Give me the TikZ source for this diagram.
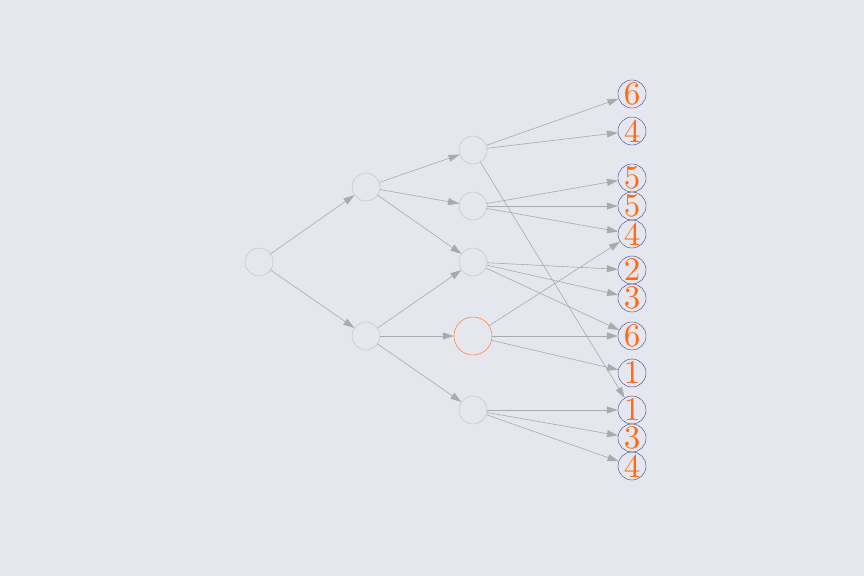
\documentclass[tikz,border=0pt]{standalone}
\usepackage{graphicx}
\usetikzlibrary{arrows.meta}

\definecolor{paper}{HTML}{E6E7EE}
\definecolor{edgegray}{HTML}{AAAAAA}
\definecolor{ringgray}{HTML}{BDBDBD}
\definecolor{pick}{HTML}{FF6A13}
\definecolor{navy}{HTML}{363C8C}

\newcommand{\payoff}[1]{\scalebox{3.3}{\fontsize{10}{10}\selectfont #1}}

\begin{document}
\begin{tikzpicture}
    [
        x=1pt, y=-1pt,
        state/.style = {
            circle, draw=ringgray, minimum size=28pt, inner sep=0pt, thin
            },
        chosen/.style = {
            state, draw=pick, minimum size=38pt
            },
        leaf/.style = {
            circle, draw=navy, minimum size=28pt, inner sep=0pt, thin,
            text=pick
            },
        move/.style = {
            draw=edgegray, line width=0.6pt,
            -{Triangle[length=11pt, width=7pt]}
            },
    ]
    \fill[paper] (0,0) rectangle (864,576);
    \useasboundingbox (0,0) rectangle (864,576);

    % tree
    \node[state] (root) at (259,262) {};
    \node[state] (up) at (366,187) {};
    \node[state] (down) at (366,336) {};
    \node[state] (u1) at (473,150) {};
    \node[state] (u2) at (473,206) {};
    \node[state] (mid) at (473,262) {};
    \node[chosen] (d1) at (473,336) {};
    \node[state] (d2) at (473,410) {};

    % leaves
    \node[leaf] (l1) at (632,94) {\payoff{6}};
    \node[leaf] (l2) at (632,131) {\payoff{4}};
    \node[leaf] (l3) at (632,178) {\payoff{5}};
    \node[leaf] (l4) at (632,206) {\payoff{5}};
    \node[leaf] (l5) at (632,234) {\payoff{4}};
    \node[leaf] (l6) at (632,270) {\payoff{2}};
    \node[leaf] (l7) at (632,298) {\payoff{3}};
    \node[leaf] (l8) at (632,336) {\payoff{6}};
    \node[leaf] (l9) at (632,373) {\payoff{1}};
    \node[leaf] (l10) at (632,410) {\payoff{1}};
    \node[leaf] (l11) at (632,438) {\payoff{3}};
    \node[leaf] (l12) at (632,466) {\payoff{4}};

    \draw[move] (root) -- (up);
    \draw[move] (root) -- (down);
    \draw[move] (up) -- (u1);
    \draw[move] (up) -- (u2);
    \draw[move] (up) -- (mid);
    \draw[move] (down) -- (mid);
    \draw[move] (down) -- (d1);
    \draw[move] (down) -- (d2);

    \draw[move] (u1) -- (l1);
    \draw[move] (u1) -- (l2);
    \draw[move] (u1) -- (l10);
    \draw[move] (u2) -- (l3);
    \draw[move] (u2) -- (l4);
    \draw[move] (u2) -- (l5);
    \draw[move] (mid) -- (l6);
    \draw[move] (mid) -- (l7);
    \draw[move] (mid) -- (l8);
    \draw[move] (d1) -- (l5);
    \draw[move] (d1) -- (l8);
    \draw[move] (d1) -- (l9);
    \draw[move] (d2) -- (l10);
    \draw[move] (d2) -- (l11);
    \draw[move] (d2) -- (l12);
\end{tikzpicture}
\end{document}
